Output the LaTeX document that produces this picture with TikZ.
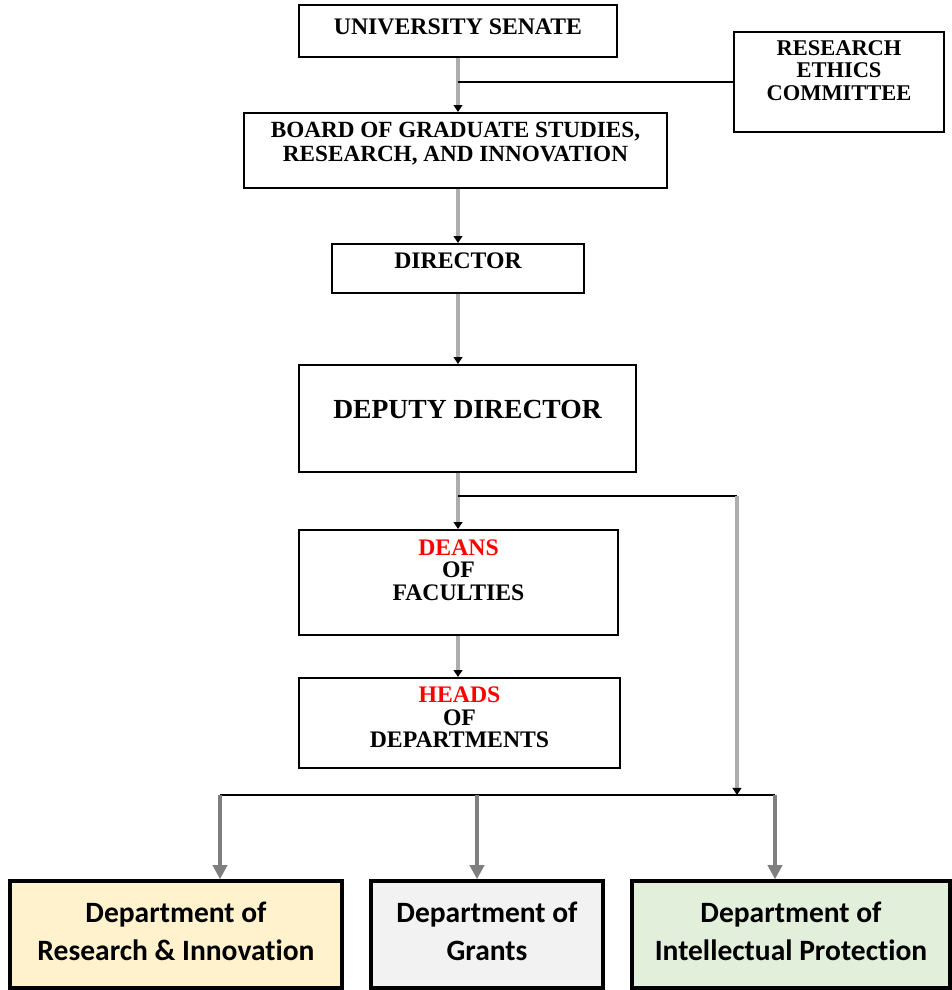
\documentclass[tikz,border=0pt]{standalone}
\usepackage{fontspec}
\setmainfont{Liberation Serif}
\newfontfamily\calibri[Ligatures=NoCommon]{Carlito}
\usetikzlibrary{arrows.meta, positioning}

\definecolor{linegray}{HTML}{ADADAD}
\definecolor{arrowgray}{HTML}{7F7F7F}
\definecolor{resfill}{HTML}{FFF2CC}
\definecolor{grantfill}{HTML}{F2F2F2}
\definecolor{ipfill}{HTML}{E2EFDA}

\tikzset{
  orgbox/.style={draw, line width=1.1pt, align=center, inner sep=0pt, font=\bfseries\fontsize{13.5}{12.8}\selectfont},
  deptbox/.style={draw, line width=2pt, align=center, inner sep=0pt, minimum height=2.14cm, text depth=0.14cm, font=\calibri\bfseries\fontsize{16.8}{21.5}\selectfont},
  feed/.style={draw=linegray, line width=2.2pt, -{Triangle[black, width=5pt, length=4pt]}},
  link/.style={draw=black, line width=1.1pt},
  drop/.style={draw=arrowgray, line width=2.2pt, -{Triangle[width=8pt, length=8pt]}}
}

\begin{document}
\begin{tikzpicture}[x=0.02cm, y=-0.02cm]
\useasboundingbox (0,0) rectangle (952,990);

% Upper chain
\node[orgbox, minimum width=6.36cm, minimum height=1.04cm, text depth=0.16cm] (senate) at (458,31) {UNIVERSITY SENATE};
\node[orgbox, minimum width=4.2cm, minimum height=2cm, text depth=0.46cm, font=\bfseries\fontsize{12.8}{12.8}\selectfont] (ethics) at (839,82) {RESEARCH\\ETHICS\\COMMITTEE};
\node[orgbox, minimum width=8.46cm, minimum height=1.5cm, text depth=0.34cm, font=\bfseries\fontsize{13.2}{13.6}\selectfont] (board) at (455.5,150.5) {BOARD OF GRADUATE STUDIES,\\RESEARCH, AND INNOVATION};
\node[orgbox, minimum width=5.04cm, minimum height=0.98cm, text depth=0.3cm] (director) at (458,268.5) {DIRECTOR};
\node[orgbox, minimum width=6.74cm, minimum height=2.14cm, text depth=0.38cm, font=\bfseries\fontsize{15.7}{16}\selectfont] (deputy) at (467.5,418.5) {DEPUTY DIRECTOR};
\node[orgbox, minimum width=6.38cm, minimum height=2.1cm, text depth=0.5cm] (deans) at (458.5,582.5) {\textcolor{red}{DEANS}\\OF\\FACULTIES};
\node[orgbox, minimum width=6.42cm, minimum height=1.8cm, text depth=0.22cm] (heads) at (459.5,723) {\textcolor{red}{HEADS}\\OF\\DEPARTMENTS};

% Departments
\node[deptbox, fill=resfill, minimum width=6.64cm] (research) at (176,934.5) {Department of\\Research \& Innovation};
\node[deptbox, fill=grantfill, minimum width=4.64cm] (grants) at (487,934.5) {Department of\\Grants};
\node[deptbox, fill=ipfill, minimum width=6.36cm] (ip) at (791,934.5) {Department of\\Intellectual Protection};

% Connectors
\draw[feed] (senate.south) -- (senate.south |- board.north);
\draw[link] (ethics.west) -- (ethics.west -| senate.south);
\draw[feed] (director.north |- board.south) -- (director.north);
\draw[feed] (director.south) -- (director.south |- deputy.north);
\draw[feed] (director.south |- deputy.south) -- (director.south |- deans.north);
\draw[feed] (director.south |- deans.south) -- (director.south |- heads.north);

\coordinate (fork) at (458,496);
\coordinate (turn) at (737,496);
\coordinate (busL) at (220,795);
\coordinate (busM) at (477,795);
\coordinate (busR) at (775,795);

\draw[link] (fork) -- (turn);
\draw[feed] (turn) -- (turn |- busR);
\draw[link] (busL) -- (busR);
\draw[drop] (busL) -- (busL |- research.north);
\draw[drop] (busM) -- (busM |- grants.north);
\draw[drop] (busR) -- (busR |- ip.north);
\end{tikzpicture}
\end{document}
